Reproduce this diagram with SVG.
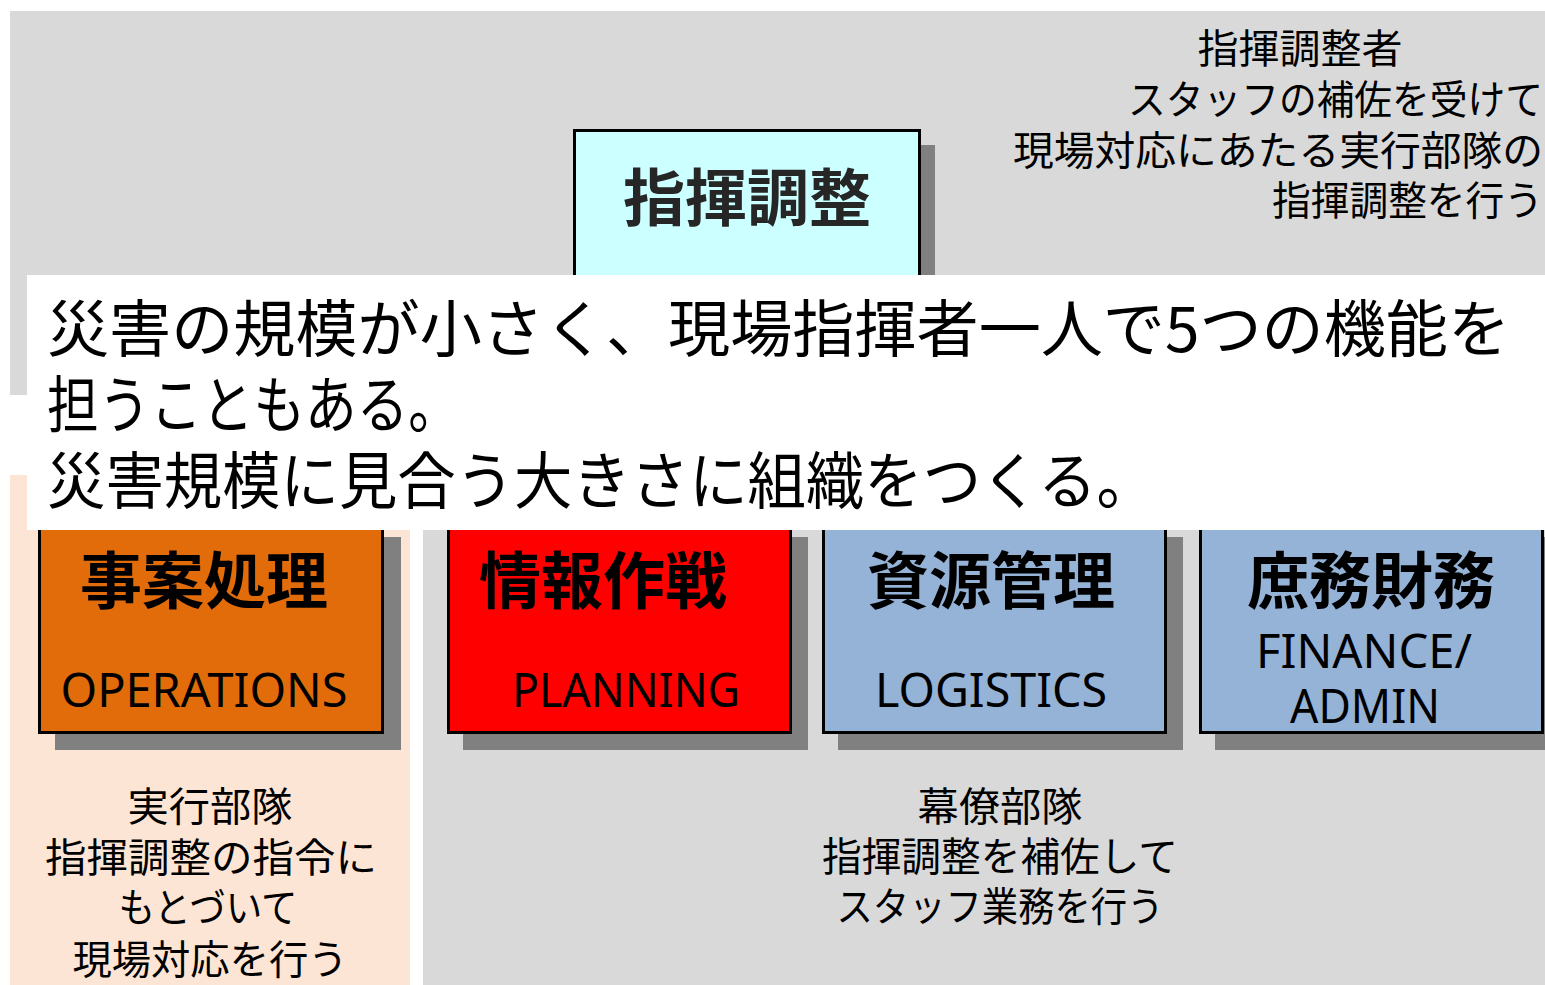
<svg xmlns="http://www.w3.org/2000/svg" width="1545" height="985" viewBox="0 0 1545 985">
<style>
.jp{font-family:"Noto Sans CJK JP","Noto Sans",sans-serif;fill:#000}
.title{font-size:62px;font-weight:bold;text-anchor:middle}
.en{font-family:"Noto Sans","Open Sans",sans-serif;font-size:47px;fill:#000;text-anchor:middle}
.desc{font-size:40px}
.box{stroke:#000;stroke-width:3}
.shadow{fill:#808080}
</style>
<rect x="0" y="0" width="1545" height="985" fill="#fff"/>
<g id="panels">
<rect x="10" y="11" width="1535" height="384" fill="#d9d9d9"/>
<rect x="10" y="475" width="400" height="510" fill="#fde5d5"/>
<rect x="423" y="475" width="1122" height="510" fill="#d9d9d9"/>
</g>
<g id="connectors"/>
<g id="node-command">
<rect class="shadow" x="588" y="145" width="347" height="160"/>
<rect class="box" x="574.5" y="130.5" width="345" height="170" fill="#ccffff"/>
<text class="jp title" x="747" y="221" style="fill:#262626">指揮調整</text>
</g>
<g id="note-command">
<text class="jp desc" x="1300" y="63" text-anchor="middle" textLength="205" lengthAdjust="spacingAndGlyphs">指揮調整者</text>
<text class="jp desc" x="1543" y="114" text-anchor="end" textLength="415" lengthAdjust="spacingAndGlyphs">スタッフの補佐を受けて</text>
<text class="jp desc" x="1543" y="165" text-anchor="end" textLength="530" lengthAdjust="spacingAndGlyphs">現場対応にあたる実行部隊の</text>
<text class="jp desc" x="1543" y="215" text-anchor="end" textLength="271" lengthAdjust="spacingAndGlyphs">指揮調整を行う</text>
</g>
<g id="node-operations">
<rect class="shadow" x="55" y="537" width="346" height="213"/>
<rect class="box" x="39.5" y="520.5" width="343" height="212" fill="#e36c0a"/>
<text class="jp title" x="204" y="604">事案処理</text>
<text class="en" x="204" y="707" textLength="287" lengthAdjust="spacingAndGlyphs">OPERATIONS</text>
</g>
<g id="node-planning">
<rect class="shadow" x="463" y="537" width="345" height="213"/>
<rect class="box" x="448.5" y="520.5" width="342" height="212" fill="#ff0000"/>
<text class="jp title" x="603" y="604">情報作戦</text>
<text class="en" x="626" y="707" textLength="228" lengthAdjust="spacingAndGlyphs">PLANNING</text>
</g>
<g id="node-logistics">
<rect class="shadow" x="838" y="537" width="345" height="213"/>
<rect class="box" x="823.5" y="520.5" width="342" height="212" fill="#95b3d7"/>
<text class="jp title" x="991" y="604">資源管理</text>
<text class="en" x="991" y="707" textLength="232" lengthAdjust="spacingAndGlyphs">LOGISTICS</text>
</g>
<g id="node-finance">
<rect class="shadow" x="1215" y="537" width="345" height="213"/>
<rect class="box" x="1200.5" y="520.5" width="342" height="212" fill="#95b3d7"/>
<text class="jp title" x="1371" y="604">庶務財務</text>
<text class="en" x="1364" y="668" textLength="216" lengthAdjust="spacingAndGlyphs">FINANCE/</text>
<text class="en" x="1365" y="723" textLength="150" lengthAdjust="spacingAndGlyphs">ADMIN</text>
</g>
<g id="note-operations">
<text class="jp desc" x="210" y="821" text-anchor="middle" textLength="165" lengthAdjust="spacingAndGlyphs">実行部隊</text>
<text class="jp desc" x="211" y="872" text-anchor="middle" textLength="332" lengthAdjust="spacingAndGlyphs">指揮調整の指令に</text>
<text class="jp desc" x="208" y="922" text-anchor="middle" textLength="179" lengthAdjust="spacingAndGlyphs">もとづいて</text>
<text class="jp desc" x="210" y="974" text-anchor="middle" textLength="275" lengthAdjust="spacingAndGlyphs">現場対応を行う</text>
</g>
<g id="note-staff">
<text class="jp desc" x="1000" y="821" text-anchor="middle" textLength="165" lengthAdjust="spacingAndGlyphs">幕僚部隊</text>
<text class="jp desc" x="1000" y="871" text-anchor="middle" textLength="356" lengthAdjust="spacingAndGlyphs">指揮調整を補佐して</text>
<text class="jp desc" x="1000" y="921" text-anchor="middle" textLength="327" lengthAdjust="spacingAndGlyphs">スタッフ業務を行う</text>
</g>
<g id="callout">
<rect x="27" y="275" width="1518" height="255" fill="#fff"/>
<text class="jp" x="47" y="352" font-size="62" textLength="1463" lengthAdjust="spacingAndGlyphs">災害の規模が小さく、現場指揮者一人で5つの機能を</text>
<text class="jp" x="47" y="428" font-size="62" textLength="413" lengthAdjust="spacingAndGlyphs">担うこともある。</text>
<text class="jp" x="47" y="504" font-size="62" textLength="1108" lengthAdjust="spacingAndGlyphs">災害規模に見合う大きさに組織をつくる。</text>
</g>
</svg>
